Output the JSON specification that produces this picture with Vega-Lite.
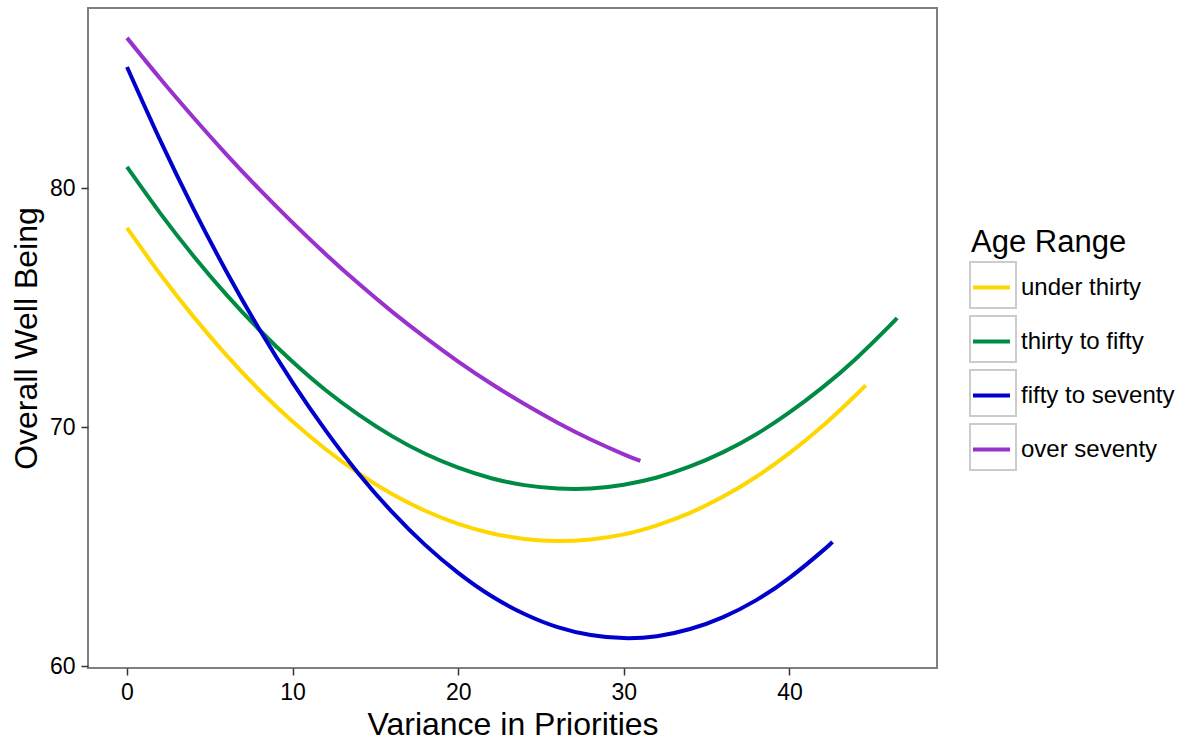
{
  "$schema": "https://vega.github.io/schema/vega-lite/v6.json",
  "width": 849,
  "height": 660,
  "autosize": {"type": "none"},
  "padding": {"left": 88, "top": 8, "right": 254, "bottom": 74},
  "background": "white",
  "config": {
    "font": "Liberation Sans",
    "view": {"stroke": "#7F7F7F", "strokeWidth": 2},
    "axis": {"grid": false, "domain": false, "tickColor": "#333333", "tickWidth": 1.5, "tickSize": 7, "labelColor": "#000000", "labelFontSize": 23, "labelPadding": 6, "titleColor": "#000000", "titleFontSize": 32, "titleFontWeight": "normal"},
    "legend": {"labelFontSize": 24, "titleFontSize": 31, "titleFontWeight": "normal", "labelColor": "#000000", "titleColor": "#000000"}
  },
  "data": {"values": [
    {"age": "under thirty", "variance": 0, "wellbeing": 78.33},
    {"age": "under thirty", "variance": 2, "wellbeing": 76.40},
    {"age": "under thirty", "variance": 4, "wellbeing": 74.63},
    {"age": "under thirty", "variance": 6, "wellbeing": 73.01},
    {"age": "under thirty", "variance": 8, "wellbeing": 71.54},
    {"age": "under thirty", "variance": 10, "wellbeing": 70.23},
    {"age": "under thirty", "variance": 12, "wellbeing": 69.07},
    {"age": "under thirty", "variance": 14, "wellbeing": 68.06},
    {"age": "under thirty", "variance": 16, "wellbeing": 67.20},
    {"age": "under thirty", "variance": 18, "wellbeing": 66.50},
    {"age": "under thirty", "variance": 20, "wellbeing": 65.95},
    {"age": "under thirty", "variance": 22, "wellbeing": 65.56},
    {"age": "under thirty", "variance": 24, "wellbeing": 65.32},
    {"age": "under thirty", "variance": 26, "wellbeing": 65.23},
    {"age": "under thirty", "variance": 28, "wellbeing": 65.30},
    {"age": "under thirty", "variance": 30, "wellbeing": 65.51},
    {"age": "under thirty", "variance": 32, "wellbeing": 65.89},
    {"age": "under thirty", "variance": 34, "wellbeing": 66.41},
    {"age": "under thirty", "variance": 36, "wellbeing": 67.09},
    {"age": "under thirty", "variance": 38, "wellbeing": 67.92},
    {"age": "under thirty", "variance": 40, "wellbeing": 68.91},
    {"age": "under thirty", "variance": 42, "wellbeing": 70.04},
    {"age": "under thirty", "variance": 44, "wellbeing": 71.33},
    {"age": "under thirty", "variance": 44.6, "wellbeing": 71.75},
    {"age": "thirty to fifty", "variance": 0, "wellbeing": 80.88},
    {"age": "thirty to fifty", "variance": 2, "wellbeing": 78.95},
    {"age": "thirty to fifty", "variance": 4, "wellbeing": 77.17},
    {"age": "thirty to fifty", "variance": 6, "wellbeing": 75.54},
    {"age": "thirty to fifty", "variance": 8, "wellbeing": 74.06},
    {"age": "thirty to fifty", "variance": 10, "wellbeing": 72.73},
    {"age": "thirty to fifty", "variance": 12, "wellbeing": 71.54},
    {"age": "thirty to fifty", "variance": 14, "wellbeing": 70.51},
    {"age": "thirty to fifty", "variance": 16, "wellbeing": 69.62},
    {"age": "thirty to fifty", "variance": 18, "wellbeing": 68.88},
    {"age": "thirty to fifty", "variance": 20, "wellbeing": 68.30},
    {"age": "thirty to fifty", "variance": 22, "wellbeing": 67.86},
    {"age": "thirty to fifty", "variance": 24, "wellbeing": 67.57},
    {"age": "thirty to fifty", "variance": 26, "wellbeing": 67.43},
    {"age": "thirty to fifty", "variance": 28, "wellbeing": 67.43},
    {"age": "thirty to fifty", "variance": 30, "wellbeing": 67.59},
    {"age": "thirty to fifty", "variance": 32, "wellbeing": 67.89},
    {"age": "thirty to fifty", "variance": 34, "wellbeing": 68.35},
    {"age": "thirty to fifty", "variance": 36, "wellbeing": 68.95},
    {"age": "thirty to fifty", "variance": 38, "wellbeing": 69.70},
    {"age": "thirty to fifty", "variance": 40, "wellbeing": 70.61},
    {"age": "thirty to fifty", "variance": 42, "wellbeing": 71.66},
    {"age": "thirty to fifty", "variance": 44, "wellbeing": 72.85},
    {"age": "thirty to fifty", "variance": 46, "wellbeing": 74.20},
    {"age": "thirty to fifty", "variance": 46.5, "wellbeing": 74.56},
    {"age": "fifty to seventy", "variance": 0, "wellbeing": 85.06},
    {"age": "fifty to seventy", "variance": 2, "wellbeing": 82.00},
    {"age": "fifty to seventy", "variance": 4, "wellbeing": 79.15},
    {"age": "fifty to seventy", "variance": 6, "wellbeing": 76.51},
    {"age": "fifty to seventy", "variance": 8, "wellbeing": 74.08},
    {"age": "fifty to seventy", "variance": 10, "wellbeing": 71.86},
    {"age": "fifty to seventy", "variance": 12, "wellbeing": 69.85},
    {"age": "fifty to seventy", "variance": 14, "wellbeing": 68.04},
    {"age": "fifty to seventy", "variance": 16, "wellbeing": 66.45},
    {"age": "fifty to seventy", "variance": 18, "wellbeing": 65.07},
    {"age": "fifty to seventy", "variance": 20, "wellbeing": 63.90},
    {"age": "fifty to seventy", "variance": 22, "wellbeing": 62.93},
    {"age": "fifty to seventy", "variance": 24, "wellbeing": 62.18},
    {"age": "fifty to seventy", "variance": 26, "wellbeing": 61.63},
    {"age": "fifty to seventy", "variance": 28, "wellbeing": 61.30},
    {"age": "fifty to seventy", "variance": 30, "wellbeing": 61.17},
    {"age": "fifty to seventy", "variance": 32, "wellbeing": 61.25},
    {"age": "fifty to seventy", "variance": 34, "wellbeing": 61.55},
    {"age": "fifty to seventy", "variance": 36, "wellbeing": 62.05},
    {"age": "fifty to seventy", "variance": 38, "wellbeing": 62.76},
    {"age": "fifty to seventy", "variance": 40, "wellbeing": 63.69},
    {"age": "fifty to seventy", "variance": 42, "wellbeing": 64.82},
    {"age": "fifty to seventy", "variance": 42.6, "wellbeing": 65.20},
    {"age": "over seventy", "variance": 0, "wellbeing": 86.28},
    {"age": "over seventy", "variance": 2, "wellbeing": 84.58},
    {"age": "over seventy", "variance": 4, "wellbeing": 82.96},
    {"age": "over seventy", "variance": 6, "wellbeing": 81.41},
    {"age": "over seventy", "variance": 8, "wellbeing": 79.94},
    {"age": "over seventy", "variance": 10, "wellbeing": 78.55},
    {"age": "over seventy", "variance": 12, "wellbeing": 77.23},
    {"age": "over seventy", "variance": 14, "wellbeing": 75.99},
    {"age": "over seventy", "variance": 16, "wellbeing": 74.83},
    {"age": "over seventy", "variance": 18, "wellbeing": 73.75},
    {"age": "over seventy", "variance": 20, "wellbeing": 72.74},
    {"age": "over seventy", "variance": 22, "wellbeing": 71.81},
    {"age": "over seventy", "variance": 24, "wellbeing": 70.96},
    {"age": "over seventy", "variance": 26, "wellbeing": 70.18},
    {"age": "over seventy", "variance": 28, "wellbeing": 69.48},
    {"age": "over seventy", "variance": 30, "wellbeing": 68.86},
    {"age": "over seventy", "variance": 31, "wellbeing": 68.58}
  ]},
  "encoding": {
    "x": {"field": "variance", "type": "quantitative", "title": "Variance in Priorities",
      "scale": {"domain": [-2.355, 48.91], "nice": false, "zero": false},
      "axis": {"values": [0, 10, 20, 30, 40], "titlePadding": 5}},
    "y": {"field": "wellbeing", "type": "quantitative", "title": "Overall Well Being",
      "scale": {"domain": [59.92, 87.53], "nice": false, "zero": false},
      "axis": {"values": [60, 70, 80], "titlePadding": 6}}
  },
  "layer": [
    {
      "mark": {"type": "point", "filled": true, "size": 0, "opacity": 1},
      "encoding": {
        "fill": {"field": "age", "type": "nominal",
          "scale": {"domain": ["over seventy", "fifty to seventy", "thirty to fifty", "under thirty"], "range": ["transparent", "transparent", "transparent", "transparent"]},
          "legend": {"orient": "none", "legendX": 881, "legendY": 253, "title": null, "symbolType": "square", "symbolSize": 2116, "symbolStrokeColor": "#CCCCCC", "symbolStrokeWidth": 2, "rowPadding": 0, "labelExpr": "''", "labelFontSize": 1, "labelOffset": 0}}
      }
    },
    {
      "mark": {"type": "line", "strokeWidth": 4, "interpolate": "natural", "clip": true},
      "encoding": {
        "color": {"field": "age", "type": "nominal", "title": "Age Range",
          "scale": {"domain": ["under thirty", "thirty to fifty", "fifty to seventy", "over seventy"], "range": ["#FFD700", "#008B45", "#0000CD", "#9932CC"]},
          "legend": {"orient": "none", "legendX": 883, "legendY": 220, "symbolType": "stroke", "symbolSize": 1369, "symbolStrokeWidth": 4, "rowPadding": 21, "labelOffset": 9, "titlePadding": 8}},
        "detail": {"field": "age"}
      }
    }
  ]
}
